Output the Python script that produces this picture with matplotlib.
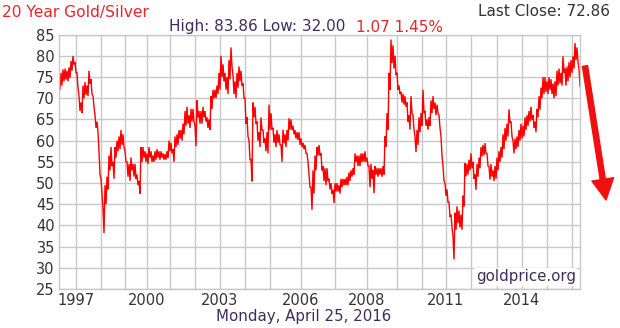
import numpy as np
import matplotlib.pyplot as plt

# gold/silver ratio, one low/high reading per sample (about two weeks apart)
ratio_lo = [
    72.0, 73.0, 74.0, 74.4, 74.0, 74.8, 76.5, 78.0, 76.0, 72.5, 67.0, 66.5, 70.0,
    70.8, 70.5, 73.5, 71.0, 68.0, 63.0, 62.0, 52.0, 47.5, 38.2, 45.0, 48.5, 53.0,
    54.0, 51.0, 56.0, 57.5, 58.0, 59.0, 58.5, 55.0, 51.5, 50.5, 53.0, 51.5, 51.0,
    49.5, 47.5, 55.0, 56.0, 55.0, 54.5, 56.0, 55.0, 55.0, 55.5, 56.0, 55.5, 56.0,
    55.5, 55.5, 56.0, 57.5, 57.0, 55.0, 58.5, 59.0, 60.5, 60.0, 61.5, 63.5, 64.0,
    63.0, 64.5, 64.5, 58.7, 65.5, 64.0, 64.0, 65.5, 64.5, 63.0, 62.6, 67.5, 70.0,
    70.0, 71.0, 72.0, 75.0, 74.0, 72.0, 71.0, 74.5, 77.5, 71.0, 70.0, 72.5, 74.0,
    73.0, 70.0, 64.0, 61.0, 55.5, 50.4, 65.5, 64.0, 60.0, 58.5, 62.5, 59.5, 57.5,
    57.0, 62.6, 62.6, 59.5, 58.5, 59.5, 59.0, 55.0, 59.4, 58.5, 60.0, 62.6, 62.5,
    61.5, 60.5, 60.2, 59.0, 58.5, 58.0, 57.0, 55.0, 49.0, 43.7, 47.5, 53.0, 56.5,
    56.5, 53.0, 50.5, 49.5, 50.5, 48.5, 47.5, 45.3, 48.0, 48.0, 47.5, 49.0, 49.5,
    49.5, 49.5, 50.5, 51.5, 52.0, 55.0, 54.0, 54.0, 55.0, 55.0, 55.0, 54.0, 49.0,
    51.0, 47.6, 52.0, 51.5, 52.0, 51.5, 52.0, 58.6, 62.6, 72.0, 78.3, 77.0, 75.5,
    72.0, 71.0, 69.0, 68.5, 68.0, 64.5, 62.6, 66.5, 62.6, 57.3, 59.0, 62.0, 63.5,
    66.5, 63.5, 62.6, 63.5, 66.5, 67.5, 66.0, 66.5, 63.0, 56.5, 50.5, 47.0, 45.5,
    42.0, 39.5, 32.0, 39.0, 40.5, 39.5, 39.0, 44.5, 51.6, 52.0, 53.0, 53.5, 51.0,
    48.4, 51.5, 53.5, 56.3, 56.5, 57.0, 54.0, 50.8, 51.5, 50.5, 51.0, 53.0, 55.0,
    56.0, 58.0, 60.0, 61.0, 64.2, 61.0, 57.0, 58.0, 58.5, 60.0, 60.5, 61.0, 62.5,
    63.5, 64.5, 65.0, 63.0, 62.0, 65.5, 67.3, 70.0, 71.0, 71.5, 71.0, 72.0, 71.0,
    70.0, 70.5, 73.0, 73.5, 73.0, 76.0, 73.0, 74.0, 75.0, 76.0, 77.0, 79.0, 78.5,
    72.86,
]
ratio_hi = [
    74.0, 76.0, 76.8, 77.0, 76.5, 77.3, 78.8, 80.0, 78.5, 76.0, 70.5, 69.0, 73.0,
    73.8, 73.0, 76.5, 74.5, 70.5, 66.0, 64.5, 57.5, 51.0, 44.0, 49.5, 51.5, 56.5,
    58.5, 55.0, 58.5, 60.0, 61.0, 62.5, 61.5, 57.5, 55.0, 54.5, 56.0, 54.5, 54.5,
    52.0, 50.5, 58.5, 58.5, 57.5, 57.0, 58.5, 57.5, 56.5, 57.5, 58.0, 57.5, 57.5,
    57.0, 56.8, 57.5, 60.0, 59.5, 58.0, 61.0, 61.5, 62.5, 62.5, 64.0, 67.0, 68.0,
    66.0, 67.5, 67.5, 63.5, 69.5, 67.0, 67.0, 68.0, 67.0, 65.5, 65.0, 70.5, 72.0,
    72.0, 73.0, 76.0, 80.0, 78.0, 76.0, 75.0, 79.0, 82.0, 75.5, 74.0, 76.0, 77.5,
    76.5, 73.5, 70.0, 65.5, 60.0, 55.5, 69.0, 68.0, 64.5, 62.0, 65.5, 62.5, 60.5,
    62.0, 68.5, 66.5, 63.0, 61.5, 62.5, 61.5, 59.0, 62.6, 61.5, 62.5, 65.3, 65.0,
    63.5, 62.5, 62.0, 62.0, 60.5, 59.5, 59.0, 57.0, 52.0, 49.0, 53.0, 56.5, 58.5,
    59.0, 57.0, 54.0, 53.5, 53.5, 51.0, 50.0, 48.4, 50.0, 50.0, 49.5, 51.0, 51.0,
    51.0, 51.5, 52.5, 53.0, 53.5, 57.0, 56.5, 56.5, 57.0, 57.0, 57.5, 56.0, 54.0,
    54.5, 53.0, 54.0, 53.5, 53.5, 53.5, 54.0, 61.0, 66.5, 76.0, 83.86, 82.5, 80.0,
    76.0, 73.0, 71.5, 71.0, 70.5, 69.0, 66.0, 70.5, 66.0, 61.0, 62.5, 65.5, 66.5,
    72.0, 67.0, 65.0, 65.5, 69.5, 70.5, 69.0, 68.5, 66.0, 61.0, 54.0, 50.0, 48.5,
    45.5, 42.5, 37.4, 43.0, 44.5, 43.5, 42.5, 47.0, 54.7, 54.5, 55.5, 57.0, 55.0,
    52.0, 54.5, 56.0, 58.5, 59.0, 59.4, 57.0, 53.9, 54.5, 53.0, 54.0, 56.0, 57.5,
    58.5, 61.5, 63.0, 64.0, 67.4, 64.5, 60.0, 60.5, 61.0, 62.5, 64.0, 63.5, 65.5,
    66.0, 67.0, 68.0, 66.0, 64.5, 67.5, 70.5, 72.5, 75.0, 75.0, 74.0, 75.0, 74.5,
    73.5, 74.0, 76.5, 77.0, 76.0, 79.9, 77.0, 77.5, 78.5, 79.0, 79.9, 83.0, 82.0,
    77.0,
]

# sample index where each calendar year begins
years = list(range(1997, 2017))
year_start = [8.5, 21, 33, 44, 55.5, 68, 80.5, 93, 105.5, 121, 138, 154, 169,
              181.5, 193.5, 206, 219, 231.5, 244, 256.5]
labelled_years = [1997, 2000, 2003, 2006, 2008, 2011, 2014]

prev_close = 73.93
date_text = "Monday, April 25, 2016"

RED = "#ff0000"
TXT_RED = "#e8262c"
NAVY = "#3a2f5c"
GRID = "#c8c8c8"

# zig-zag through high and low of every sample to get the ragged band
n = len(ratio_lo)
xs = np.empty(2 * n)
ys = np.empty(2 * n)
xs[0::2] = np.arange(n)
xs[1::2] = np.arange(n) + 0.5
ys[0::2] = ratio_hi
ys[1::2] = ratio_lo

fig = plt.figure(figsize=(6.2, 3.28), dpi=100)
ax = fig.add_axes([59 / 620, 39 / 328, 521 / 620, 254.3 / 328])

ax.plot(xs, ys, color=RED, lw=1.0, solid_joinstyle="miter")

ax.set_xlim(0, n - 0.5)
ax.set_ylim(25, 85)
ax.set_yticks(np.arange(25, 86, 5))
ax.set_xticks(year_start)
ax.set_xticklabels([str(y) if y in labelled_years else "" for y in years])
ax.grid(True, color=GRID, lw=1.0)
ax.set_axisbelow(True)
for s in ax.spines.values():
    s.set_color(GRID)
    s.set_linewidth(1.0)
ax.tick_params(length=0, labelsize=10.5, colors="#333333")
ax.tick_params(axis="y", pad=3)
ax.tick_params(axis="x", pad=3)

ax.text(0.992, 0.018, "goldprice.org", transform=ax.transAxes, ha="right",
        va="bottom", fontsize=10.8, color=NAVY,
        bbox=dict(facecolor="white", edgecolor="none", pad=1))

last = ys[-1]
change = prev_close - last
fig.text(2 / 620, 1 - 12 / 328, "20 Year Gold/Silver", color=TXT_RED,
         fontsize=11.2, va="center", ha="left")
fig.text(610 / 620, 1 - 12 / 328, f"Last Close: {last:.2f}", color="#333333",
         fontsize=11, va="center", ha="right")
fig.text(169 / 620, 1 - 27 / 328,
         f"High: {ys.max():.2f} Low: {ys.min():.2f}", color=NAVY,
         fontsize=11, va="center", ha="left")
fig.text(356 / 620, 1 - 27 / 328,
         f"{change:.2f} {change / prev_close * 100:.2f}%", color=TXT_RED,
         fontsize=11, va="center", ha="left")
fig.text(304 / 620, 1 - 317 / 328, date_text, color=NAVY, fontsize=10.8,
         va="center", ha="center")

# downward arrow beside the last close
ax.annotate("", xy=(606 / 620, 1 - 200 / 328), xytext=(585 / 620, 1 - 66 / 328),
            xycoords="figure fraction", textcoords="figure fraction",
            arrowprops=dict(arrowstyle="simple,head_length=1.0,head_width=1.05,tail_width=0.25",
                            mutation_scale=15, color="#f01010", shrinkA=0, shrinkB=0),
            annotation_clip=False)

fig.savefig("out.png", dpi=100)
